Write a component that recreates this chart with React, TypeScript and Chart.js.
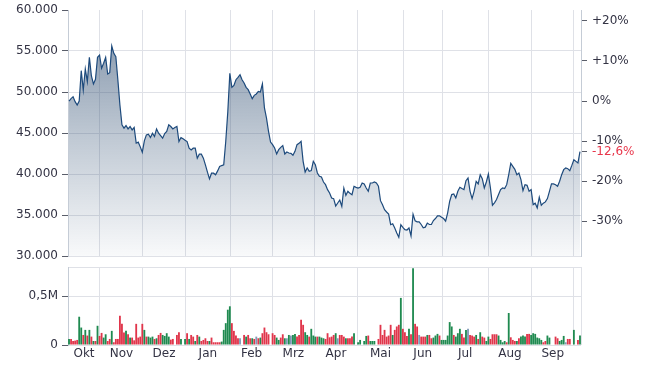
import React, { useEffect, useRef } from 'react';
import { Chart, registerables } from 'chart.js';

Chart.register(...registerables);
Chart.defaults.font.family = 'DejaVu Sans';

// Month labels and month boundaries (in trading-day index units)
const monthLabels = ['Okt', 'Nov', 'Dez', 'Jan', 'Feb', 'Mrz', 'Apr', 'Mai', 'Jun', 'Jul', 'Aug', 'Sep'];
const monthStarts = [15.2, 36.3, 57, 79.4, 99.9, 120.5, 141.8, 164.2, 183.3, 205.9, 227.3, 247.9];

// Axis ticks
const priceTicks = [30000, 35000, 40000, 45000, 50000, 55000, 60000];
const priceMin = 30000;
const priceMax = 60000;
const percentTicks = [-30, -20, -10, 0, 10, 20];
const volumeTicks = [0, 500000];
const volumeMax = 800000;

// Daily closing prices
const prices = [
  48900, 49190, 49430, 48820, 48420, 48900, 52600, 50240, 52800, 51260,
  54230, 51950, 50980, 51550, 54230, 54510, 52890, 53500, 54230, 52200,
  52360, 55610, 54720, 54310, 51460, 48420, 45990, 45590, 45910, 45500,
  45790, 45380, 45670, 43760, 43880, 43310, 42660, 44040, 44770, 44850,
  44450, 44980, 44570, 45500, 44980, 44690, 44370, 44940, 45180, 45990,
  45790, 45500, 45670, 45790, 43960, 44450, 44290, 44120, 43960, 43150,
  42940, 43150, 43150, 41930, 42420, 42420, 41930, 41110, 40220, 39410,
  40100, 40100, 39900, 40380, 40910, 41030, 41110, 44000, 47600, 52280,
  50570, 50810, 51500, 51790, 52110, 51500, 51100, 50570, 50290, 49760,
  49190, 49590, 49760, 50080, 50000, 50980, 48050, 46830, 45200, 43900,
  43580, 43170, 42440, 42970, 43250, 43460, 42440, 42680, 42560, 42520,
  42280, 42760, 43580, 43740, 43980, 41550, 40240, 40730, 40330, 40410,
  41550, 41140, 40120, 39720, 39630, 39020, 38700, 38090, 37680, 37070,
  36990, 36100, 36460, 36830, 36060, 38290, 37400, 37890, 37640, 37480,
  38500, 38370, 38290, 38370, 38900, 38780, 38290, 37890, 38900, 38900,
  39020, 38900, 38500, 36750, 36260, 35650, 35370, 35120, 33820, 33940,
  33420, 32810, 32280, 33820, 33500, 33210, 33170, 33420, 32450, 35100,
  34300, 34170, 34170, 33840, 33440, 33520, 34010, 33840, 33840, 34330,
  34570, 34900, 34900, 34740, 34570, 34250, 35260, 36680, 37490, 37570,
  37080, 37890, 38380, 38220, 38100, 39190, 39510, 37890, 37000, 37890,
  39110, 38790, 39920, 39430, 38300, 39030, 40000, 38300, 36190, 36480,
  36880, 37490, 38100, 38300, 38220, 38700, 39920, 41300, 40930, 40570,
  39920, 40120, 39310, 37980, 38700, 38620, 37890, 38100, 36270, 36440,
  35870, 37170, 36190, 36440, 36600, 37000, 37890, 38790, 38790, 38700,
  38500, 39110, 39920, 40530, 40730, 40650, 40410, 41050, 41740, 41540,
  41340, 42740,
];

// Daily volume in thousands
const volumes = [
  62, 62, 41, 45, 52, 290, 179, 103, 155, 97,
  155, 86, 41, 41, 197, 93, 124, 76, 110, 41,
  62, 145, 28, 62, 62, 300, 217, 128, 145, 110,
  76, 76, 48, 217, 76, 86, 217, 155, 86, 86,
  76, 86, 62, 69, 103, 124, 103, 93, 121, 86,
  55, 62, 0, 103, 131, 62, 0, 62, 121, 62,
  103, 86, 41, 103, 86, 41, 52, 69, 41, 41,
  76, 28, 28, 28, 28, 35, 155, 224, 362, 397,
  224, 145, 97, 69, 69, 0, 103, 86, 103, 69,
  69, 62, 86, 69, 76, 121, 179, 131, 110, 0,
  121, 103, 76, 52, 76, 110, 69, 69, 103, 97,
  103, 114, 86, 103, 259, 207, 131, 103, 86, 166,
  97, 86, 86, 86, 76, 69, 62, 121, 79, 86,
  103, 121, 69, 103, 103, 86, 69, 69, 69, 86,
  121, 0, 28, 52, 0, 41, 93, 97, 41, 41,
  41, 0, 62, 207, 103, 155, 86, 97, 207, 103,
  155, 190, 207, 483, 166, 131, 93, 166, 110, 787,
  217, 190, 103, 86, 86, 86, 103, 103, 69, 76,
  97, 114, 97, 52, 52, 52, 97, 235, 190, 103,
  86, 121, 166, 114, 76, 155, 166, 103, 97, 86,
  103, 62, 131, 86, 76, 41, 86, 62, 110, 110,
  110, 97, 52, 28, 41, 28, 328, 79, 52, 41,
  41, 69, 86, 97, 86, 114, 114, 103, 121, 114,
  76, 69, 52, 28, 41, 97, 76, 0, 0, 86,
  69, 41, 52, 93, 28, 62, 62, 0, 155, 0,
  52, 97,
];

// Day direction: u = up (green), d = down (red), n = unchanged (grey)
const volumeDirs = [
  'udddduudud', 'udududduud', 'duddddddud', 'uddddddudu', 'uududduuuu',
  'ddnddunudu', 'ddududdddu', 'ddddduuuuu', 'ddddnndudd', 'udnduddddn',
  'dduuddunun', 'uudddduudu', 'uuduuudddd', 'dunddduddd', 'unuunuuduu',
  'undddddddu', 'dddudddudu', 'ddnddduddu', 'uuduuuuuud', 'uuuddunddd',
  'ududduuddd', 'duuuududdd', 'uduuudduuu', 'uuudduunnd', 'duuunddnun',
  'du',
];

const fmtThousands = (v: number) => String(v).replace(/\B(?=(\d{3})+(?!\d))/g, '.');

export default function App() {
  const priceRef = useRef<HTMLCanvasElement>(null);
  const volRef = useRef<HTMLCanvasElement>(null);

  useEffect(() => {
    const base = prices[0];
    const last = prices[prices.length - 1];
    const lastPct = Math.round((last / base - 1) * 1000) / 10;
    const pctMin = (priceMin / base - 1) * 100;
    const pctMax = (priceMax / base - 1) * 100;

    const font = { family: 'DejaVu Sans', size: 12 };
    const textColor = '#333344';
    const gridColor = '#dfe1e7';
    const axisColor = '#c5ccd6';
    const tickMarkColor = '#5a5e6a';
    const clear = 'rgba(0,0,0,0)';

    const xMin = -0.5;
    const xMax = prices.length - 0.5;
    const gridTicks = [xMin, ...monthStarts, xMax];
    const bounds = [xMin, ...monthStarts];
    const labelPos = monthLabels.map((_, i) => (bounds[i] + bounds[i + 1]) / 2);

    const dirs = volumeDirs.join('').split('');
    const dirColor = (d: string) => (d === 'u' ? '#1f8a50' : d === 'd' ? '#e0354b' : '#7f9ab6');

    const fixV = (w: number) => (s: any) => {
      s.width = w;
      s.paddingTop = 0;
      s.paddingBottom = 0;
    };
    const fixH = (h: number) => (s: any) => {
      s.height = h;
      s.paddingLeft = 0;
      s.paddingRight = 0;
    };

    const xGrid: any = {
      type: 'linear',
      min: xMin,
      max: xMax,
      offset: false,
      afterBuildTicks: (s: any) => {
        s.ticks = gridTicks.map((v) => ({ value: v }));
      },
      ticks: { display: false },
      grid: { color: gridColor, drawTicks: false, offset: false },
      border: { display: false },
      afterFit: fixH(0),
      weight: 0,
    };

    const priceChart = new Chart(priceRef.current as HTMLCanvasElement, {
      type: 'line',
      data: {
        datasets: [
          {
            data: prices.map((p, i) => ({ x: i, y: p })),
            xAxisID: 'x',
            yAxisID: 'y',
            borderColor: '#1d4a7c',
            borderWidth: 1.2,
            pointRadius: 0,
            tension: 0,
            fill: 'start',
            backgroundColor: (ctx: any) => {
              const chart = ctx.chart;
              const a = chart.chartArea;
              if (!a) return 'rgba(50,80,115,0.3)';
              const g = chart.ctx.createLinearGradient(0, a.top, 0, a.bottom);
              g.addColorStop(0, 'rgba(50,80,115,0.64)');
              g.addColorStop(0.5, 'rgba(50,80,115,0.32)');
              g.addColorStop(1, 'rgba(50,80,115,0.03)');
              return g;
            },
          },
        ],
      },
      options: {
        responsive: false,
        animation: false,
        layout: { padding: { top: 10, bottom: 8, left: 0, right: 0 } },
        plugins: { legend: { display: false }, tooltip: { enabled: false } },
        scales: {
          x: xGrid,
          y: {
            position: 'left',
            min: priceMin,
            max: priceMax,
            afterBuildTicks: (s: any) => {
              s.ticks = priceTicks.map((v) => ({ value: v }));
            },
            ticks: {
              font,
              color: textColor,
              padding: 4,
              autoSkip: false,
              callback: (v: any) => fmtThousands(Number(v)),
            },
            grid: {
              color: (c: any) => (c.tick && c.tick.value === priceMax ? clear : gridColor),
              tickColor: tickMarkColor,
              tickLength: 6,
            },
            border: { color: axisColor },
            afterFit: fixV(68),
          },
          yr: {
            position: 'right',
            min: pctMin,
            max: pctMax,
            afterBuildTicks: (s: any) => {
              s.ticks = [...percentTicks, lastPct].map((v) => ({ value: v }));
            },
            ticks: {
              font,
              autoSkip: false,
              padding: 5,
              color: (c: any) => (c.tick && c.tick.value === lastPct ? '#e8364b' : textColor),
              callback: (v: any) => {
                const n = Number(v);
                if (n === lastPct) return n.toFixed(1).replace('.', ',') + '%';
                return (n > 0 ? '+' : '') + n + '%';
              },
            },
            grid: { drawOnChartArea: false, tickColor: tickMarkColor, tickLength: 6 },
            border: { color: axisColor },
            afterFit: fixV(69),
          },
        },
      } as any,
    });

    const volChart = new Chart(volRef.current as HTMLCanvasElement, {
      type: 'bar',
      data: {
        datasets: [
          {
            data: volumes.map((v, i) => ({ x: i, y: v * 1000 })),
            xAxisID: 'x',
            yAxisID: 'y',
            backgroundColor: volumes.map((_, i) => dirColor(dirs[i] || 'n')),
            borderWidth: 0,
            barPercentage: 0.9,
            categoryPercentage: 1,
          },
        ],
      },
      options: {
        responsive: false,
        animation: false,
        layout: { padding: { top: 9, right: 69, left: 0, bottom: 5 } },
        plugins: { legend: { display: false }, tooltip: { enabled: false } },
        scales: {
          x: xGrid,
          xl: {
            type: 'linear',
            position: 'bottom',
            min: xMin,
            max: xMax,
            offset: false,
            weight: 1,
            afterBuildTicks: (s: any) => {
              s.ticks = labelPos.map((v) => ({ value: v }));
            },
            ticks: {
              font,
              color: textColor,
              padding: 2,
              autoSkip: false,
              maxRotation: 0,
              callback: (_v: any, i: number) => monthLabels[i],
            },
            grid: { display: false, drawTicks: false, offset: false },
            border: { display: false },
            afterFit: fixH(20),
          },
          y: {
            position: 'left',
            min: 0,
            max: volumeMax,
            afterBuildTicks: (s: any) => {
              s.ticks = [...volumeTicks, volumeMax].map((v) => ({ value: v }));
            },
            ticks: {
              font,
              color: textColor,
              padding: 4,
              autoSkip: false,
              callback: (v: any) => {
                const n = Number(v);
                if (n === 0) return '0';
                if (n === volumeMax) return '';
                return String(n / 1000000).replace('.', ',') + 'M';
              },
            },
            grid: {
              color: gridColor,
              tickColor: (c: any) => (c.tick && c.tick.value === volumeMax ? clear : tickMarkColor),
              tickLength: 6,
            },
            border: { color: axisColor },
            afterFit: fixV(68),
          },
        },
      } as any,
    });

    return () => {
      priceChart.destroy();
      volChart.destroy();
    };
  }, []);

  return (
    <div style={{ position: 'absolute', left: 0, top: 0, width: 650, height: 370, background: '#fff' }}>
      <canvas
        ref={priceRef}
        width={650}
        height={264}
        style={{ position: 'absolute', left: 0, top: 0, width: 650, height: 264, display: 'block' }}
      />
      <canvas
        ref={volRef}
        width={650}
        height={112}
        style={{ position: 'absolute', left: 0, top: 258, width: 650, height: 112, display: 'block' }}
      />
    </div>
  );
}
